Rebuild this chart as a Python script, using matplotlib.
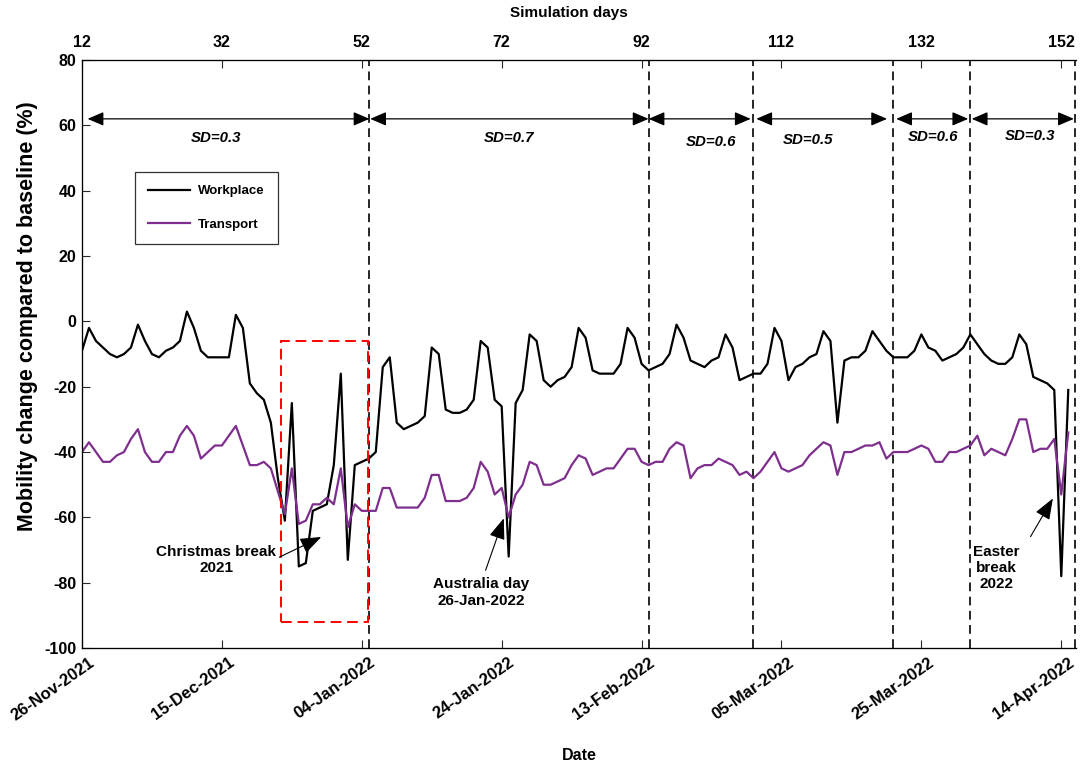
import numpy as np
import matplotlib
matplotlib.use('Agg')
import matplotlib.pyplot as plt
import matplotlib.transforms as mtransforms
from matplotlib.patches import Rectangle

plt.rcParams['font.family'] = ['Liberation Sans', 'DejaVu Sans']
plt.rcParams['font.weight'] = 'bold'
plt.rcParams['axes.unicode_minus'] = False

# simulation day of each observation
days = np.arange(12, 154)

workplace = [-9, -2, -6, -8, -10, -11, -10, -8, -1, -6, -10, -11, -9, -8, -6, 3, -2, -9, -11, -11,
             -11, -11, 2, -2, -19,
             -22, -24, -31, -48, -61, -25, -75, -74, -58, -57, -56, -44, -16, -73, -44, -43, -42, -40,
             -14, -11,
             -31, -33, -32, -31, -29, -8, -10, -27, -28, -28, -27, -24, -6, -8, -24, -26, -72, -25,
             -21, -4, -6, -18, -20, -18, -17, -14, -2, -5,
             -15, -16, -16, -16, -13, -2, -5, -13, -15, -14, -13, -10, -1, -5, -12, -13, -14, -12,
             -11, -4, -8, -18, -17, -16,
             -16, -13, -2, -6, -18, -14, -13, -11, -10, -3, -6, -31, -12, -11, -11, -9, -3, -6, -9,
             -11, -11, -11, -9, -4, -8,
             -9, -12, -11, -10, -8, -4, -7, -10, -12, -13, -13, -11, -4, -7, -17, -18, -19, -21,
             -78, -21]

transport = [-40, -37, -40, -43, -43, -41, -40, -36, -33, -40, -43, -43, -40, -40, -35, -32, -35,
             -42, -40, -38, -38, -35, -32, -38, -44,
             -44, -43, -45, -52, -59, -45, -62, -61, -56, -56, -54, -56, -45, -63, -56,
             -58, -58, -58, -51, -51, -57, -57, -57, -57, -54, -47, -47, -55, -55, -55, -54, -51,
             -43, -46, -53, -51, -60, -53, -50, -43, -44, -50, -50, -49, -48, -44, -41,
             -42, -47, -46, -45, -45, -42, -39, -39, -43, -44, -43, -43, -39, -37, -38, -48, -45,
             -44, -44, -42, -43, -44, -47, -46,
             -48, -46, -43, -40, -45, -46, -45, -44, -41, -39, -37, -38, -47, -40, -40, -39, -38,
             -38, -37, -42, -40, -40, -40, -39, -38, -39,
             -43, -43, -40, -40, -39, -38, -35, -41, -39, -40, -41, -36, -30, -30, -40, -39, -39,
             -36, -53, -34]

sim_ticks = [12, 32, 52, 72, 92, 112, 132, 152]
date_labels = ['26-Nov-2021', '15-Dec-2021', '04-Jan-2022', '24-Jan-2022',
               '13-Feb-2022', '05-Mar-2022', '25-Mar-2022', '14-Apr-2022']

# social distancing phases
phase_lines = [53.1, 93.0, 108.0, 128.0, 139.0, 154.0]
sd_values = ['SD=0.3', 'SD=0.7', 'SD=0.6', 'SD=0.5', 'SD=0.6', 'SD=0.3']
sd_spans = [(12.8, 53.1), (53.2, 93.0), (93.0, 107.6), (108.4, 127.1), (128.4, 138.7), (139.2, 153.8)]
sd_label_x = [31.1, 73.0, 101.9, 115.8, 133.6, 147.6]
sd_label_y = [56.0, 56.0, 55.0, 55.6, 56.4, 56.8]

X_MAX = 154.1
AX_COLOR = '#262626'

fig = plt.figure(figsize=(10.83, 7.67), dpi=100)
ax = fig.add_axes([0.0757, 0.1551, 0.9178, 0.7666])

ax.plot(days, workplace, color='black', lw=1.6, label='Workplace')
ax.plot(days, transport, color='#7E2F8E', lw=1.6, label='Transport')

for x in phase_lines:
    ax.axvline(x, color='#262626', lw=1.4, ls=(0, (4.5, 2.8)), zorder=1)

ax.add_patch(Rectangle((40.5, -92), 12.45, 86, fill=False, edgecolor='#ff0000',
                       lw=1.4, ls=(0, (5.5, 3)), zorder=3))

for (x0, x1), lab, lx, ly in zip(sd_spans, sd_values, sd_label_x, sd_label_y):
    ax.annotate('', xy=(x1, 62), xytext=(x0, 62),
                arrowprops=dict(arrowstyle='<|-|>,head_length=0.7,head_width=0.3',
                                color='black', lw=0.9, mutation_scale=14,
                                shrinkA=0, shrinkB=0))
    ax.text(lx, ly, lab, ha='center', va='center', fontsize=10.8,
            fontstyle='italic', fontweight='bold')

arrow_kw = dict(arrowstyle='-|>,head_length=1.0,head_width=0.38', color='black',
                lw=0.8, mutation_scale=13, shrinkA=0, shrinkB=0)
ax.text(31.2, -73, 'Christmas break\n2021', ha='center', va='center', fontsize=11)
ax.annotate('', xy=(46.2, -66.0), xytext=(40.2, -72.2), arrowprops=arrow_kw)
ax.text(69.1, -83, 'Australia day\n26-Jan-2022', ha='center', va='center', fontsize=11)
ax.annotate('', xy=(72.3, -60.3), xytext=(69.7, -76.2), arrowprops=arrow_kw)
ax.text(142.7, -75.5, 'Easter\nbreak\n2022', ha='center', va='center', fontsize=11,
        linespacing=1.2)
ax.annotate('', xy=(150.8, -54.2), xytext=(147.6, -65.9), arrowprops=arrow_kw)

ax.set_xlim(12, X_MAX)
ax.set_ylim(-100, 80)
ax.set_yticks(np.arange(-100, 81, 20))
ax.set_xticks(sim_ticks)
ax.set_xticklabels(date_labels, rotation=35, ha='right', va='top', rotation_mode='anchor')
ax.tick_params(axis='both', direction='in', length=6, width=0.8, color=AX_COLOR,
               labelsize=11.5, pad=4)
ax.tick_params(axis='x', pad=5, labelsize=12)
shift = mtransforms.ScaledTranslation(5 / 72, 0, fig.dpi_scale_trans)
for lab in ax.get_xticklabels():
    lab.set_transform(lab.get_transform() + shift)
for lab in ax.get_xticklabels() + ax.get_yticklabels():
    lab.set_fontweight('bold')
ax.spines['right'].set_visible(False)
for s in ['left', 'bottom', 'top']:
    ax.spines[s].set_color(AX_COLOR)
    ax.spines[s].set_linewidth(0.9)
ax.set_ylabel('Mobility change compared to baseline (%)', fontsize=15.5, fontweight='bold')
ax.yaxis.set_label_coords(-0.044, 0.565)
ax.set_xlabel('Date', fontsize=11.5, fontweight='bold', labelpad=18)

leg = ax.legend(loc='upper left', bbox_to_anchor=(0.053, 0.81), fontsize=9.5,
                frameon=True, fancybox=False, edgecolor='black', borderpad=1.0,
                borderaxespad=0, labelspacing=1.6, handlelength=3.2, handletextpad=0.6)
leg.get_frame().set_linewidth(0.9)
for t in leg.get_texts():
    t.set_fontweight('bold')

top = ax.twiny()
top.set_xlim(12, X_MAX)
top.set_xticks(sim_ticks)
top.set_xticklabels([str(t) for t in sim_ticks])
top.tick_params(axis='x', direction='in', length=6, width=0.8, color=AX_COLOR,
                labelsize=11.5, pad=7)
for lab in top.get_xticklabels():
    lab.set_fontweight('bold')
top.spines['right'].set_visible(False)
top.set_xlabel('Simulation days', fontsize=11, fontweight='bold')
top.xaxis.set_label_coords(0.49, 1.074)

fig.savefig('out.png', dpi=100)
